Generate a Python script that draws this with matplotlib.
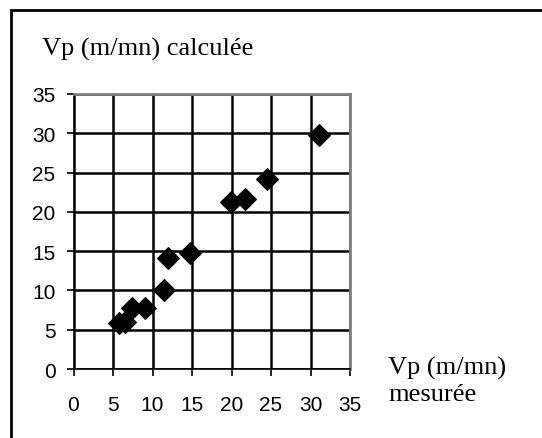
import matplotlib
matplotlib.use("Agg")
import matplotlib.pyplot as plt
from matplotlib.patches import Rectangle

# measured vs computed velocity (m/mn)
vp_mesuree = [5.7, 6.5, 7.4, 9.0, 11.4, 12.0, 14.7, 19.9, 21.7, 24.5, 31.1]
vp_calculee = [5.8, 6.0, 7.8, 7.8, 10.0, 14.1, 14.8, 21.2, 21.7, 24.2, 29.8]
ticks = [0, 5, 10, 15, 20, 25, 30, 35]

W, H = 542, 439
fig = plt.figure(figsize=(W / 100, H / 100), dpi=100)
fig.patch.set_facecolor("white")

# outer frame (right/bottom edges run off the picture)
fig.add_artist(Rectangle((11 / W, -0.1), 1.2, 1 - 11 / H + 0.1,
                         transform=fig.transFigure, fill=False,
                         edgecolor="black", linewidth=2))

ax = fig.add_axes([73.5 / W, 1 - 370 / H, 276.5 / W, 275 / H])
ax.scatter(vp_mesuree, vp_calculee, marker="D", s=120, color="black",
           zorder=3, clip_on=False)

ax.set_xlim(0, 35)
ax.set_ylim(0, 35)
ax.set_xticks(ticks)
ax.set_yticks(ticks)
ax.grid(True, color="black", linewidth=1.8)
ax.set_axisbelow(True)

for side in ("top", "right"):
    ax.spines[side].set_color("#808080")
    ax.spines[side].set_linewidth(2)
for side in ("left", "bottom"):
    ax.spines[side].set_color("black")
    ax.spines[side].set_linewidth(1.2)

ax.tick_params(direction="out", length=5, width=1.2, colors="black",
               labelsize=15)
ax.tick_params(axis="y", pad=8)
ax.tick_params(axis="x", pad=14)
for lbl in ax.get_xticklabels() + ax.get_yticklabels():
    lbl.set_fontfamily("Liberation Sans")

serif = "Liberation Serif"
fig.text(42 / W, 1 - 56 / H, "Vp (m/mn) calculée", fontsize=19,
         family=serif, ha="left", va="baseline")
fig.text(388 / W, 1 - 375 / H, "Vp (m/mn)", fontsize=19,
         family=serif, ha="left", va="baseline")
fig.text(388 / W, 1 - 401 / H, "mesurée", fontsize=19,
         family=serif, ha="left", va="baseline")

fig.savefig("out.png", dpi=100)
